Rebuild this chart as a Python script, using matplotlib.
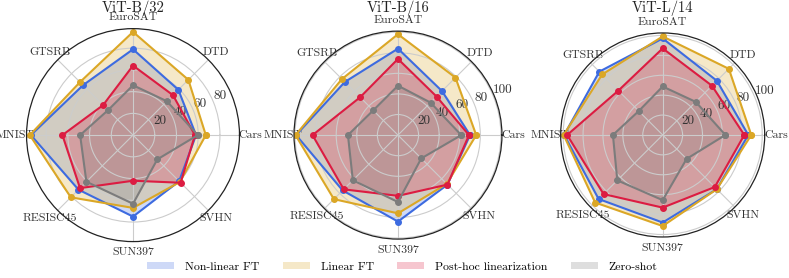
import numpy as np
import matplotlib
matplotlib.use("Agg")
import matplotlib.pyplot as plt
from matplotlib.patches import Patch

plt.rcParams['font.family'] = ['cmr10', 'DejaVu Serif']
plt.rcParams['mathtext.fontset'] = 'cm'
plt.rcParams['axes.formatter.use_mathtext'] = True

tasks = ["Cars", "DTD", "EuroSAT", "GTSRB", "MNIST", "RESISC45", "SUN397", "SVHN"]
models = ["ViT-B/32", "ViT-B/16", "ViT-L/14"]
methods = ["Non-linear FT", "Linear FT", "Post-hoc linearization", "Zero-shot"]
colors = ["#3d6be0", "#dba726", "#dc1c42", "#7c7c7c"]

# accuracies per task
b32_nonlin = [58, 59, 79, 65, 94, 71, 75, 60]
b32_lin = [67, 72, 95, 69, 95, 81, 67, 61]
b32_posthoc = [57, 52, 64, 39, 65, 69, 42, 62]
b32_zs = [59.6, 44.1, 45.9, 32.5, 48.7, 60.7, 63.2, 31.6]

b16_nonlin = [70, 60.5, 84, 73, 99, 76, 84, 68]
b16_lin = [76, 79, 98, 77, 99.5, 88, 76, 67]
b16_posthoc = [69, 53, 74, 52, 83, 74.5, 59, 68]
b16_zs = [61.5, 44.7, 48, 34, 48.6, 62, 65, 32]

l14_nonlin = [86, 77, 97, 90, 99, 91, 88, 77]
l14_lin = [89, 94, 99, 86, 99.5, 96, 91.5, 77]
l14_posthoc = [82, 70, 87, 63, 96, 84, 73, 74]
l14_zs = [63, 47, 48.7, 34, 50, 64.5, 65.5, 34]

all_data = [
    [b32_nonlin, b32_lin, b32_posthoc, b32_zs],
    [b16_nonlin, b16_lin, b16_posthoc, b16_zs],
    [l14_nonlin, l14_lin, l14_posthoc, l14_zs],
]
rmax = [98, 101, 102.5]
rticks = [[20, 40, 60, 80], [20, 40, 60, 80, 100], [20, 40, 60, 80, 100]]

# axes rectangles (left, bottom, width, height) in figure fraction
rects = [
    [0.0336, 0.131, 0.270, 0.766],
    [0.3726, 0.140, 0.2636, 0.748],
    [0.7106, 0.1475, 0.2586, 0.734],
]
centers_x = [133 / 789, 398 / 789, 663 / 789]

angles = np.arange(len(tasks)) * 2 * np.pi / len(tasks)
angles_closed = np.append(angles, angles[0])

fig = plt.figure(figsize=(7.89, 2.78), dpi=100)

for m, model in enumerate(models):
    ax = fig.add_axes(rects[m], projection="polar")
    for k in range(len(methods)):
        vals = np.array(all_data[m][k], dtype=float)
        vals_closed = np.append(vals, vals[0])
        ax.fill(angles_closed, vals_closed, color=colors[k], alpha=0.25, lw=0)
        ax.plot(angles_closed, vals_closed, color=colors[k], lw=1.5,
                marker="o", ms=4)
    ax.set_ylim(0, rmax[m])
    ax.set_yticks(rticks[m])
    ax.set_yticklabels([str(t) for t in rticks[m]], fontsize=9.5, color="#333333")
    ax.set_rlabel_position(22.5)
    ax.set_xticks(angles)
    ax.set_xticklabels(tasks, fontsize=8.5, color="#333333")
    ax.tick_params(axis="x", pad=-2.5)
    ax.grid(color="#cccccc", lw=0.8)
    ax.spines["polar"].set_color("#222222")
    ax.spines["polar"].set_linewidth(0.9)
    fig.text(centers_x[m], 0.957, model, fontsize=10.5, ha="center",
             va="baseline", color="#222222")

handles = [Patch(facecolor=c, alpha=0.25, edgecolor="none") for c in colors]
fig.legend(handles, methods, loc="center", ncol=4, frameon=False,
           fontsize=8.5, handlelength=2.3, handleheight=0.6, handletextpad=0.9,
           columnspacing=2.0, bbox_to_anchor=(0.51, 0.04))

fig.savefig("out.png", dpi=100)
